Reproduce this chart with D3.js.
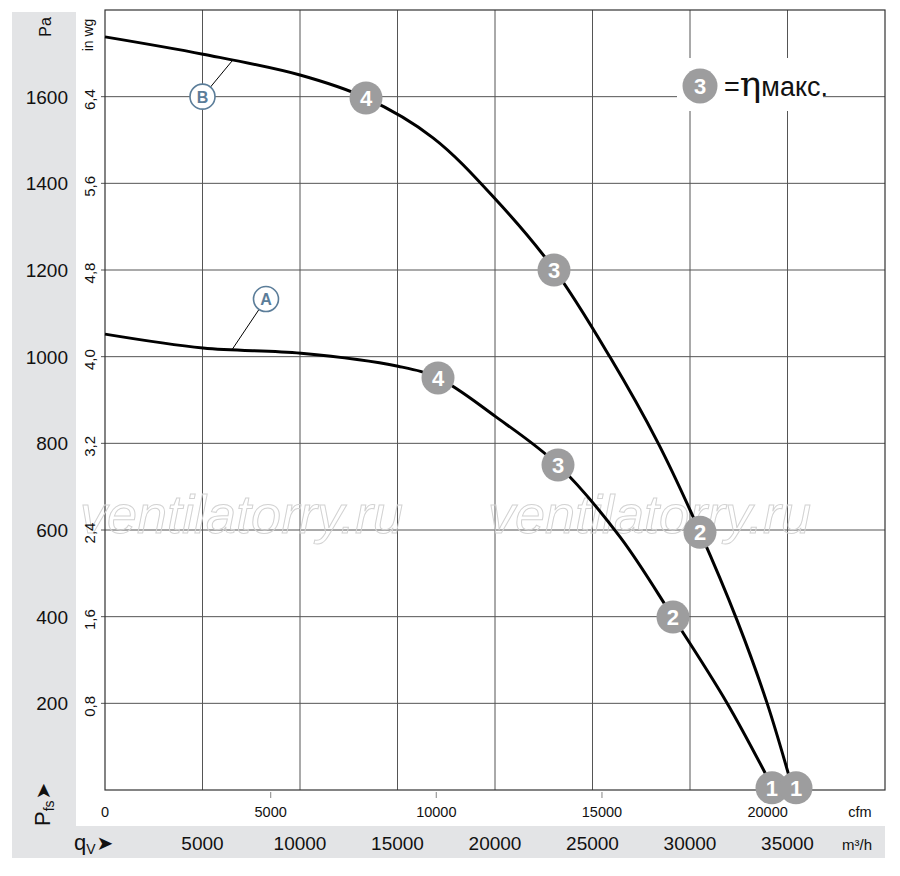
<!DOCTYPE html>
<html>
<head>
<meta charset="utf-8">
<script src="https://cdn.jsdelivr.net/npm/d3@7"></script>
<style>
  body { margin: 0; background: #fff; }
  svg { display: block; }
  text { font-family: "Liberation Sans", Arial, sans-serif; }
</style>
</head>
<body>
<div id="chart"></div>
<script>
// fan curves: flow in m3/h, static pressure in Pa
var curveB = [[0,1738],[5026,1698],[10000,1650],[13385,1597],[16821,1505],[20051,1362],
  [23026,1202],[25897,999],[28359,801],[30513,595],[32410,392],[33949,201],[35282,0]];
var curveA = [[0,1052],[5026,1020],[10051,1008],[15026,978],[17077,951],[20051,861],
  [23231,750],[26410,584],[29128,399],[31897,201],[34308,0]];

var pointsA = [{n:"4",q:17077,p:951},{n:"3",q:23231,p:750},{n:"2",q:29128,p:399},{n:"1",q:34205,p:5}];
var pointsB = [{n:"4",q:13385,p:1597},{n:"3",q:23026,p:1200},{n:"2",q:30513,p:595},{n:"1",q:35436,p:5}];

// curve name tags: tag position and where the leader meets the curve
var tags = [{name:"B",q:5000,p:1600,lq:6564,lp:1685},{name:"A",q:8256,p:1133,lq:6513,lp:1016}];

var paTicks = [200,400,600,800,1000,1200,1400,1600];
var inwgTicks = ["0,8","1,6","2,4","3,2","4,0","4,8","5,6","6,4"];
var qTicks = [5000,10000,15000,20000,25000,30000,35000];
var cfmTicks = [0,5000,10000,15000,20000];
var cfmToM3h = 1.699;

var width = 900, height = 876,
    plot = {left: 105, top: 10, right: 885, bottom: 790};

var svg = d3.select("#chart").append("svg")
  .attr("width", width)
  .attr("height", height);

var x = d3.scaleLinear().domain([0, 40000]).range([plot.left, plot.right]);
var y = d3.scaleLinear().domain([0, 1800]).range([plot.bottom, plot.top]);

// grey label panels
svg.append("rect").attr("x", 12).attr("y", 12).attr("width", 64).attr("height", 846).attr("fill", "#e3e4e6");
svg.append("rect").attr("x", 12).attr("y", 826).attr("width", plot.right - 12).attr("height", 32).attr("fill", "#e3e4e6");

// grid
svg.append("g").selectAll("line").data(qTicks).enter().append("line")
  .attr("x1", d => x(d)).attr("x2", d => x(d))
  .attr("y1", plot.top).attr("y2", plot.bottom)
  .attr("stroke", "#555").attr("stroke-width", 1);
svg.append("g").selectAll("line").data(paTicks).enter().append("line")
  .attr("x1", plot.left - 4).attr("x2", plot.right)
  .attr("y1", d => y(d)).attr("y2", d => y(d))
  .attr("stroke", "#555").attr("stroke-width", 1);

// frame
svg.append("rect")
  .attr("x", plot.left).attr("y", plot.top)
  .attr("width", plot.right - plot.left).attr("height", plot.bottom - plot.top)
  .attr("fill", "none").attr("stroke", "#333").attr("stroke-width", 1.2);

// cfm ticks
svg.append("g").selectAll("line").data(cfmTicks.slice(1)).enter().append("line")
  .attr("x1", d => x(d * cfmToM3h)).attr("x2", d => x(d * cfmToM3h))
  .attr("y1", plot.bottom + 2).attr("y2", plot.bottom + 8)
  .attr("stroke", "#999").attr("stroke-width", 1.2);

// watermark
[80, 488].forEach(function(wx) {
  svg.append("text")
    .attr("x", wx).attr("y", 533)
    .style("font-style", "italic")
    .style("font-size", "54px")
    .attr("fill", "none").attr("stroke", "#d2d2d2").attr("stroke-width", 1)
    .text("ventilatorry.ru");
});

// legend box hides the grid behind it
svg.append("rect").attr("x", 677).attr("y", 58).attr("width", 146).attr("height", 53).attr("fill", "#fff");

// curves
var line = d3.line().x(d => x(d[0])).y(d => y(d[1])).curve(d3.curveCatmullRom.alpha(0.5));
[curveA, curveB].forEach(function(c) {
  svg.append("path").datum(c)
    .attr("d", line)
    .attr("fill", "none").attr("stroke", "#000").attr("stroke-width", 3);
});

// curve tags A / B
var tagColor = "#5b7d99", tagR = 12.5;
tags.forEach(function(t) {
  var cx = x(t.q), cy = y(t.p), lx = x(t.lq), ly = y(t.lp);
  var dx = lx - cx, dy = ly - cy, len = Math.sqrt(dx * dx + dy * dy);
  svg.append("line")
    .attr("x1", cx + dx / len * tagR).attr("y1", cy + dy / len * tagR)
    .attr("x2", lx).attr("y2", ly)
    .attr("stroke", "#000").attr("stroke-width", 1);
  svg.append("circle").attr("cx", cx).attr("cy", cy).attr("r", tagR)
    .attr("fill", "#fff").attr("stroke", tagColor).attr("stroke-width", 1.6);
  svg.append("text").attr("x", cx).attr("y", cy + 6)
    .attr("text-anchor", "middle").attr("fill", tagColor)
    .style("font-size", "16px").style("font-weight", "bold")
    .text(t.name);
});

// operating point markers
function markers(pts) {
  var g = svg.append("g").selectAll("g").data(pts).enter().append("g")
    .attr("transform", d => `translate(${x(d.q)},${y(d.p)})`);
  g.append("circle").attr("r", 16.5).attr("fill", "#9d9d9e");
  g.append("text").attr("y", 8).attr("text-anchor", "middle")
    .attr("fill", "#fff").style("font-size", "22px").style("font-weight", "bold")
    .text(d => d.n);
}
markers(pointsA);
markers(pointsB);

// legend
svg.append("circle").attr("cx", 700).attr("cy", 86).attr("r", 17.5).attr("fill", "#9d9d9e");
svg.append("text").attr("x", 700).attr("y", 94).attr("text-anchor", "middle")
  .attr("fill", "#fff").style("font-size", "22px").style("font-weight", "bold").text("3");
var leg = svg.append("text").attr("x", 724).attr("y", 96)
  .style("font-size", "27px").attr("fill", "#111");
leg.append("tspan").text("=");
leg.append("tspan").style("font-family", "'DejaVu Serif', serif").style("font-size", "36px").text("η");
leg.append("tspan").text("макс.");

// Pa labels
svg.append("g").selectAll("text").data(paTicks).enter().append("text")
  .attr("x", 68).attr("y", d => y(d) + 7)
  .attr("text-anchor", "end").style("font-size", "19px").attr("fill", "#111")
  .text(d => d);

// in wg labels
svg.append("g").selectAll("text").data(inwgTicks).enter().append("text")
  .attr("transform", (d, i) => `translate(95,${y(paTicks[i]) + 3}) rotate(-90)`)
  .attr("text-anchor", "middle").style("font-size", "15px").attr("fill", "#111")
  .text(d => d);

svg.append("text").attr("transform", "translate(51,27) rotate(-90)")
  .attr("text-anchor", "middle").style("font-size", "16px").attr("fill", "#111").text("Pa");
svg.append("text").attr("transform", "translate(93,35) rotate(-90)")
  .attr("text-anchor", "middle").style("font-size", "14px").attr("fill", "#111").text("in wg");

// cfm labels
svg.append("g").selectAll("text").data(cfmTicks).enter().append("text")
  .attr("x", d => x(d * cfmToM3h)).attr("y", 817)
  .attr("text-anchor", "middle").style("font-size", "14.5px").attr("fill", "#111")
  .text(d => d);
svg.append("text").attr("x", 860).attr("y", 817).attr("text-anchor", "middle")
  .style("font-size", "14.5px").attr("fill", "#111").text("cfm");

// m3/h labels
svg.append("g").selectAll("text").data(qTicks).enter().append("text")
  .attr("x", d => x(d)).attr("y", 850)
  .attr("text-anchor", "middle").style("font-size", "19px").attr("fill", "#111")
  .text(d => d);
svg.append("text").attr("x", 857).attr("y", 850).attr("text-anchor", "middle")
  .style("font-size", "15px").attr("fill", "#111").text("m³/h");

// axis symbols
var qv = svg.append("text").attr("x", 74).attr("y", 850)
  .style("font-size", "22px").attr("fill", "#111");
qv.append("tspan").text("q");
qv.append("tspan").attr("dy", 4).style("font-size", "14px").text("V");
qv.append("tspan").attr("dy", -4).attr("dx", 1)
  .style("font-family", "'DejaVu Sans', sans-serif").style("font-size", "20px").text("➤");

var pfs = svg.append("text").attr("transform", "translate(50,826) rotate(-90)")
  .style("font-size", "22px").attr("fill", "#111");
pfs.append("tspan").text("P");
pfs.append("tspan").attr("dy", 4).style("font-size", "14px").text("fs");
pfs.append("tspan").attr("dy", -4).attr("dx", 1)
  .style("font-family", "'DejaVu Sans', sans-serif").style("font-size", "20px").text("➤");
</script>
</body>
</html>
